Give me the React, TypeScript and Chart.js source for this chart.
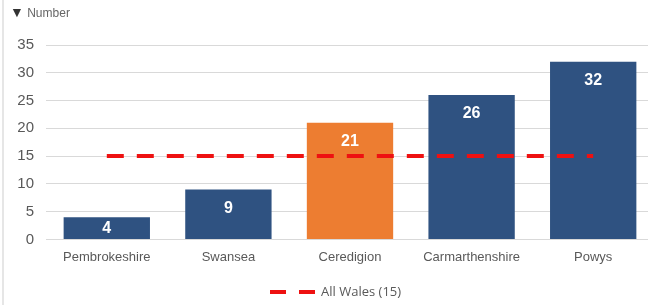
import React, { useEffect, useRef } from "react";
import { Chart, registerables } from "chart.js";

Chart.register(...registerables);

const categories = ["Pembrokeshire", "Swansea", "Ceredigion", "Carmarthenshire", "Powys"];
const values = [4, 9, 21, 26, 32];
const barColors = ["#2f5281", "#2f5281", "#ed7d31", "#2f5281", "#2f5281"];
const allWales = [15, 15, 15, 15, 15];
const legendLabel = "All Wales (15)";
const axisLabel = "Number";

const FONT = "'Liberation Sans', Arial, sans-serif";

const barLabelPlugin = {
  id: "barLabels",
  afterDatasetsDraw(chart: any) {
    const ctx = chart.ctx;
    const meta = chart.getDatasetMeta(0);
    ctx.save();
    ctx.fillStyle = "#ffffff";
    ctx.font = `bold 16px ${FONT}`;
    ctx.textAlign = "center";
    ctx.textBaseline = "middle";
    meta.data.forEach((bar: any, i: number) => {
      const top = bar.y;
      const bottom = bar.base;
      const y = Math.min(top + 19, (top + bottom) / 2 + 1);
      ctx.fillText(String(values[i]), bar.x, y);
    });
    ctx.restore();
  },
};

const legendPlugin = {
  id: "customLegend",
  afterDraw(chart: any) {
    const ctx = chart.ctx;
    ctx.save();
    ctx.strokeStyle = "#ee1111";
    ctx.lineWidth = 4;
    ctx.setLineDash([16, 13]);
    ctx.beginPath();
    ctx.moveTo(270, 292);
    ctx.lineTo(315, 292);
    ctx.stroke();
    ctx.setLineDash([]);
    ctx.fillStyle = "#595959";
    ctx.font = `13px 'Open Sans', ${FONT}`;
    ctx.textAlign = "left";
    ctx.textBaseline = "middle";
    ctx.fillText(legendLabel, 321, 292);
    ctx.restore();
  },
};

export default function App() {
  const ref = useRef<HTMLCanvasElement | null>(null);

  useEffect(() => {
    if (!ref.current) return;
    const chart = new Chart(ref.current, {
      type: "bar",
      data: {
        labels: categories,
        datasets: [
          {
            type: "bar",
            label: "Value",
            data: values,
            backgroundColor: barColors,
            borderWidth: 0,
            barPercentage: 0.71,
            categoryPercentage: 1,
            order: 1,
          },
          {
            type: "line",
            label: legendLabel,
            data: allWales,
            borderColor: "#ee1111",
            borderWidth: 4,
            borderDash: [17, 13],
            pointRadius: 0,
            fill: false,
            order: 0,
          } as any,
        ],
      },
      options: {
        responsive: false,
        animation: false,
        devicePixelRatio: 1,
        layout: { padding: { top: 45, bottom: 38, left: 0, right: 0 } },
        plugins: {
          legend: { display: false },
          tooltip: { enabled: false },
        },
        scales: {
          x: {
            grid: { display: false },
            border: { display: false },
            ticks: {
              color: "#595959",
              font: { size: 13, family: FONT },
              padding: 2,
              maxRotation: 0,
            },
          },
          y: {
            min: 0,
            max: 35,
            ticks: {
              stepSize: 5,
              color: "#595959",
              font: { size: 15, family: FONT },
              padding: 12,
            },
            grid: { color: "#d9d9d9", lineWidth: 1, drawTicks: false },
            border: { display: false },
            afterFit(scale: any) {
              scale.width = 46;
            },
          },
        },
      },
      plugins: [barLabelPlugin, legendPlugin],
    });
    return () => chart.destroy();
  }, []);

  return (
    <div
      style={{
        position: "fixed",
        left: 0,
        top: 0,
        width: 648,
        height: 305,
        overflow: "hidden",
        background: "#ffffff",
      }}
    >
      <canvas ref={ref} width={654} height={305} style={{ position: "absolute", left: 0, top: 0 }} />
      <div
        style={{
          position: "absolute",
          left: 2,
          top: 0,
          width: 2,
          height: 305,
          background: "#e6e6e6",
        }}
      />
      <div
        style={{
          position: "absolute",
          left: 10,
          top: 5,
          fontFamily: FONT,
          fontSize: 12,
          color: "#666666",
          lineHeight: "14px",
        }}
      >
        <span style={{ color: "#333333", fontSize: 14 }}>▼</span> {axisLabel}
      </div>
    </div>
  );
}
